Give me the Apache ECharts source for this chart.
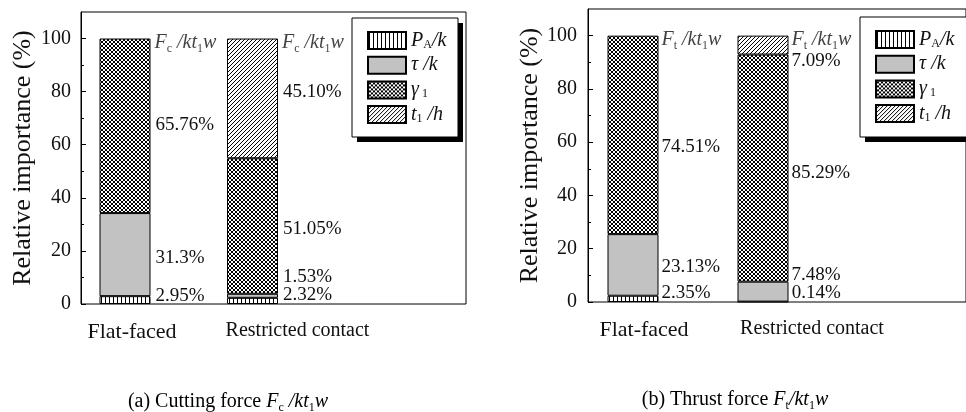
<!DOCTYPE html>
<html><head><meta charset="utf-8">
<script src="https://cdn.jsdelivr.net/npm/echarts@6/dist/echarts.min.js"></script>
<style>html,body{margin:0;padding:0;background:#fff}#c{width:966px;height:412px}</style>
</head><body><div id="c"></div>
<script>
// ---------- data ----------
const categories = ['Flat-faced', 'Restricted contact'];
const seriesNames = ['PA', 'tau', 'gamma', 't1'];
const yTicks = [0, 20, 40, 60, 80, 100];
const yMinorTicks = [10, 30, 50, 70, 90];
const yMax = 110;

const cuttingPA = [2.95, 2.32];
const cuttingTau = [31.3, 1.53];
const cuttingGamma = [65.76, 51.05];
const cuttingT1 = [0, 45.10];
const cuttingPALabels = ['2.95%', '2.32%'];
const cuttingTauLabels = ['31.3%', '1.53%'];
const cuttingGammaLabels = ['65.76%', '51.05%'];
const cuttingT1Labels = ['', '45.10%'];

const thrustPA = [2.35, 0.14];
const thrustTau = [23.13, 7.48];
const thrustGamma = [74.51, 85.29];
const thrustT1 = [0, 7.09];
const thrustPALabels = ['2.35%', '0.14%'];
const thrustTauLabels = ['23.13%', '7.48%'];
const thrustGammaLabels = ['74.51%', '85.29%'];
const thrustT1Labels = ['', '7.09%'];

const totals = [100, 100];

// ---------- styles ----------
const FONT = 'Liberation Serif';
const INK = '#111';

function makePattern(kind) {
  const c = document.createElement('canvas');
  const s = 4;
  c.width = s; c.height = s;
  const g = c.getContext('2d');
  g.fillStyle = '#fff'; g.fillRect(0, 0, s, s);
  g.strokeStyle = '#000'; g.fillStyle = '#000'; g.lineWidth = 1;
  if (kind === 'vert') {
    g.fillRect(1, 0, 1, s);
  } else if (kind === 'cross') {
    g.beginPath();
    g.moveTo(-1, -1); g.lineTo(s + 1, s + 1);
    g.moveTo(s + 1, -1); g.lineTo(-1, s + 1);
    g.stroke();
  } else if (kind === 'diag') {
    g.beginPath();
    g.moveTo(-1, s + 1); g.lineTo(s + 1, -1);
    g.moveTo(-1, 1); g.lineTo(1, -1);
    g.moveTo(s - 1, s + 1); g.lineTo(s + 1, s - 1);
    g.stroke();
  }
  return { image: c, repeat: 'repeat' };
}
const fills = {
  PA: makePattern('vert'),
  tau: '#c2c2c2',
  gamma: makePattern('cross'),
  t1: makePattern('diag')
};

const richBase = {
  n: { fontFamily: FONT, fontSize: 20, color: INK, lineHeight: 24, verticalAlign: 'middle' },
  i: { fontFamily: FONT, fontSize: 20, fontStyle: 'italic', color: INK, lineHeight: 24, verticalAlign: 'middle' },
  s: { fontFamily: FONT, fontSize: 12, color: INK, lineHeight: 12, verticalAlign: 'bottom' }
};
const richLegend = {
  i: { fontFamily: FONT, fontSize: 20, fontStyle: 'italic', color: INK, lineHeight: 20, verticalAlign: 'middle' },
  s: { fontFamily: FONT, fontSize: 12, color: INK, lineHeight: 10, verticalAlign: 'bottom' }
};

const legendText = {
  PA: '{i|P}{s|A}{i|/k}',
  tau: '{i|τ /k}',
  gamma: '{i|γ}{s| 1}',
  t1: '{i|t}{s|1}{i| /h}'
};

// label vertical offsets (style)
const cutOff = { PA: [-4, -6], tau: [3, -19], gamma: [-1, 3], t1: [0, -6] };
const thrOff = { PA: [-6, -9], tau: [2, -17], gamma: [12, 5], t1: [0, 16] };

function barSeries(name, values, labels, offs, xi, yi, dist) {
  return {
    type: 'bar', name: name, stack: 'g' + xi, xAxisIndex: xi, yAxisIndex: yi,
    barWidth: 51,
    itemStyle: { color: fills[name], borderColor: '#000', borderWidth: 1 },
    data: values.map((v, k) => ({
      value: v > 0 ? v : '-',
      label: {
        show: v > 0, position: 'right', distance: dist,
        offset: [0, offs[k]],
        formatter: labels[k],
        fontFamily: FONT, fontSize: 19, color: INK
      }
    }))
  };
}

function topLabelSeries(text, xi, yi, dist) {
  return {
    type: 'scatter', name: 'top' + xi, xAxisIndex: xi, yAxisIndex: yi,
    symbol: 'rect', symbolSize: [51, 1], silent: true,
    itemStyle: { color: 'rgba(0,0,0,0)' },
    label: { show: true, position: 'right', distance: dist, offset: [0, 4], formatter: text, rich: richBase },
    data: totals.map((v, k) => [k, v])
  };
}

function frameYAxes(gi, margin, gap) {
  return [
    {
      gridIndex: gi, type: 'value', min: 0, max: yMax,
      name: 'Relative importance (%)', nameLocation: 'middle', nameGap: gap,
      nameTextStyle: { fontFamily: FONT, fontSize: 26, color: INK },
      axisLine: { show: true, lineStyle: { color: '#000', width: 1 } },
      axisTick: { show: true, inside: true, length: 5, customValues: yTicks, lineStyle: { color: '#000' } },
      axisLabel: { customValues: yTicks, margin: margin, fontFamily: FONT, fontSize: 20, color: INK },
      splitLine: { show: false }
    },
    {
      gridIndex: gi, type: 'value', min: 0, max: yMax, position: 'left',
      axisLine: { show: false },
      axisTick: { show: true, inside: true, length: 3, customValues: yMinorTicks, lineStyle: { color: '#000' } },
      axisLabel: { show: false },
      splitLine: { show: false }
    }
  ];
}

function catAxis(gi, shifts, margin) {
  return {
    gridIndex: gi, type: 'category', data: categories,
    axisLine: { show: false }, axisTick: { show: false },
    axisLabel: {
      margin: margin, interval: 0,
      formatter: (v, idx) => '{c' + idx + '|' + v + '}',
      rich: {
        c0: { fontFamily: FONT, fontSize: 22, color: INK, padding: [0, 0, 0, shifts[0] * 2] },
        c1: { fontFamily: FONT, fontSize: 20, color: INK, padding: [0, 0, 0, shifts[1] * 2] }
      }
    }
  };
}

const legendCommon = {
  orient: 'vertical', icon: 'rect', itemWidth: 38, itemHeight: 17, itemGap: 4.7,
  padding: [12.5, 8, 10, 15],
  backgroundColor: 'transparent', borderWidth: 0,
  selectedMode: false, z: 10,
  data: seriesNames,
  formatter: (n) => legendText[n],
  textStyle: { rich: richLegend }
};

function legendBox(x, y, w, h) {
  return [
    { type: 'rect', z: 5, silent: true, shape: { x: x + 5, y: y + 5, width: w, height: h }, style: { fill: '#000' } },
    { type: 'rect', z: 6, silent: true, shape: { x: x, y: y, width: w, height: h }, style: { fill: '#fff', stroke: '#000', lineWidth: 1 } }
  ];
}

const chart = echarts.init(document.getElementById('c'), null, { renderer: 'canvas' });
chart.setOption({
  animation: false,
  backgroundColor: '#fff',
  grid: [
    { left: 81, top: 12, width: 385, height: 292, show: true, borderColor: '#000', borderWidth: 1, backgroundColor: 'transparent' },
    { left: 61.25, top: 12, width: 255, height: 292 },
    { left: 588, top: 9, width: 400, height: 293, show: true, borderColor: '#000', borderWidth: 1, backgroundColor: 'transparent' },
    { left: 568, top: 9, width: 260, height: 293 }
  ],
  xAxis: [
    { gridIndex: 0, type: 'value', min: 0, max: 1, show: false },
    catAxis(1, [7, 45], 17),
    { gridIndex: 2, type: 'value', min: 0, max: 1, show: false },
    catAxis(3, [11, 49], 17)
  ],
  yAxis: [
    ...frameYAxes(0, 10, 45),
    { gridIndex: 1, type: 'value', min: 0, max: yMax, show: false },
    ...frameYAxes(2, 11, 41),
    { gridIndex: 3, type: 'value', min: 0, max: yMax, show: false }
  ],
  legend: [
    Object.assign({ left: 352, top: 18 }, legendCommon),
    Object.assign({ left: 860, top: 17 }, legendCommon)
  ],
  series: [
    barSeries('PA', cuttingPA, cuttingPALabels, cutOff.PA, 1, 2, 5),
    barSeries('tau', cuttingTau, cuttingTauLabels, cutOff.tau, 1, 2, 5),
    barSeries('gamma', cuttingGamma, cuttingGammaLabels, cutOff.gamma, 1, 2, 5),
    barSeries('t1', cuttingT1, cuttingT1Labels, cutOff.t1, 1, 2, 5),
    topLabelSeries('{i|F}{s|c}{i| /kt}{s|1}{i|w}', 1, 2, 4),
    barSeries('PA', thrustPA, thrustPALabels, thrOff.PA, 3, 5, 3),
    barSeries('tau', thrustTau, thrustTauLabels, thrOff.tau, 3, 5, 3),
    barSeries('gamma', thrustGamma, thrustGammaLabels, thrOff.gamma, 3, 5, 3),
    barSeries('t1', thrustT1, thrustT1Labels, thrOff.t1, 3, 5, 3),
    topLabelSeries('{i|F}{s|t}{i| /kt}{s|1}{i|w}', 3, 5, 3)
  ],
  graphic: [
    ...legendBox(352, 18, 106, 119),
    ...legendBox(860, 17, 112, 120),
    { type: 'text', x: 228, y: 402, style: { text: '{n|(a) Cutting force }{i|F}{s|c}{i| /kt}{s|1}{i|w}', rich: richBase, align: 'center', verticalAlign: 'middle' } },
    { type: 'text', x: 735, y: 400, style: { text: '{n|(b) Thrust force }{i|F}{s|t}{i|/kt}{s|1}{i|w}', rich: richBase, align: 'center', verticalAlign: 'middle' } }
  ]
});
</script>
</body></html>
